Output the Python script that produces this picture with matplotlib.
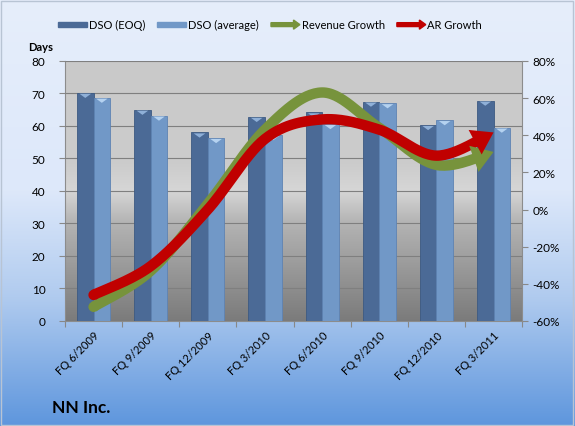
import numpy as np
import matplotlib
matplotlib.use('Agg')
import matplotlib.pyplot as plt
import matplotlib.patches as mpatches
from matplotlib.colors import LinearSegmentedColormap
from matplotlib.legend_handler import HandlerPatch

plt.rcParams['font.family'] = ['Lato', 'DejaVu Sans']

# data
quarters = ['FQ 6/2009', 'FQ 9/2009', 'FQ 12/2009', 'FQ 3/2010',
            'FQ 6/2010', 'FQ 9/2010', 'FQ 12/2010', 'FQ 3/2011']
dso_eoq = [70.2, 65.0, 58.0, 62.8, 64.2, 67.5, 60.3, 67.8]
dso_avg = [68.7, 63.2, 56.3, 57.2, 60.6, 67.0, 61.8, 59.5]
revenue_growth = [-52.4, -33.0, 3.0, 43.0, 63.0, 44.0, 24.0, 31.0]
ar_growth = [-46.0, -30.5, 0.0, 38.0, 48.5, 43.0, 29.0, 41.5]

C_EOQ = '#4b6a96'
C_AVG = '#7198c7'
C_REV = '#77933c'
C_AR = '#c00000'


def smooth(xs, ys, n=30):
    """Catmull-Rom curve through the points (like Excel's smoothed line)."""
    p = np.column_stack([xs, ys]).astype(float)
    p = np.vstack([p[0], p, p[-1]])
    out = []
    for i in range(1, len(p) - 2):
        p0, p1, p2, p3 = p[i-1], p[i], p[i+1], p[i+2]
        t = np.linspace(0, 1, n, endpoint=False)[:, None]
        seg = 0.5*((2*p1) + (-p0+p2)*t + (2*p0-5*p1+4*p2-p3)*t**2 + (-p0+3*p1-3*p2+p3)*t**3)
        out.append(seg)
    out.append(p[-2][None, :])
    out = np.vstack(out)
    return out[:, 0], out[:, 1]


def make_arrow(legend, orig_handle, xdescent, ydescent, width, height, fontsize):
    return mpatches.FancyArrow(0, height/2, width, 0, width=height*0.55,
                               head_width=height*1.3, head_length=height*0.9,
                               length_includes_head=True)


def make_bar(legend, orig_handle, xdescent, ydescent, width, height, fontsize):
    return mpatches.Rectangle((0, height*0.2), width, height*0.6)


fig = plt.figure(figsize=(5.75, 4.27), dpi=100)

# figure background gradient
bg = fig.add_axes([0, 0, 1, 1], zorder=-5)
bg_cmap = LinearSegmentedColormap.from_list('bg', [(0, '#e6eefb'), (0.45, '#dde8fa'),
                                                   (0.7, '#b0cbef'), (1.0, '#5e96dd')])
bg.imshow(np.linspace(0, 1, 256)[:, None], aspect='auto', cmap=bg_cmap,
          extent=[0, 1, 1, 0])
bg.set_xlim(0, 1)
bg.set_ylim(1, 0)
bg.axis('off')
fig.patches.append(mpatches.Rectangle((0.002, 0.003), 0.995, 0.993, transform=fig.transFigure,
                                      fill=False, ec='#b8c4d4', lw=1))

ax = fig.add_axes([0.113, 0.246, 0.795, 0.609])
ax.patch.set_alpha(0)
plot_cmap = LinearSegmentedColormap.from_list('pl', [(0, '#c9c9c9'), (0.4, '#cccccc'),
                                                     (0.5, '#d6d6d6'), (0.62, '#b4b4b4'),
                                                     (1.0, '#7b7b7b')])
x = np.arange(len(quarters))
ax.imshow(np.linspace(0, 1, 256)[:, None], aspect='auto', cmap=plot_cmap,
          extent=[-0.5, len(quarters) - 0.5, 0, 80], zorder=0)
ax.set_xlim(-0.5, len(quarters) - 0.5)
ax.set_ylim(0, 80)

bw = 0.29
ax.bar(x - bw/2, dso_eoq, bw, color=C_EOQ, ec='#3d5a82', lw=0.6, zorder=3, label='DSO (EOQ)')
ax.bar(x + bw/2, dso_avg, bw, color=C_AVG, ec='#5e83b3', lw=0.6, zorder=3, label='DSO (average)')
# small light caps on the bar tops
for xi, v in zip(x, dso_eoq):
    ax.fill([xi - bw*0.85, xi - bw*0.15, xi - bw/2], [v - 0.3, v - 0.3, v - 1.6],
            color='#8fb0d8', zorder=4, lw=0)
for xi, v in zip(x, dso_avg):
    ax.fill([xi + bw*0.15, xi + bw*0.85, xi + bw/2], [v - 0.3, v - 0.3, v - 1.6],
            color='#b5d2f0', zorder=4, lw=0)

ax.set_yticks(range(0, 81, 10))
ax.grid(axis='y', color='#7f7f7f', lw=0.8, zorder=1)
ax.set_axisbelow(False)
ax.set_xticks(np.arange(-0.5, len(quarters), 1))
ax.set_xticklabels([])
ax.set_xticks(x, minor=True)
ax.set_xticklabels(quarters, minor=True, rotation=45, ha='right', va='top',
                   rotation_mode='anchor', fontsize=8)
ax.tick_params(axis='x', which='minor', length=0, pad=6)
ax.tick_params(axis='x', which='major', length=4, color='#888888')
ax.tick_params(axis='y', length=4, color='#888888', labelsize=8.5, pad=10)
for s in ['top', 'right']:
    ax.spines[s].set_visible(False)
ax.spines['left'].set_color('#8c8c8c')
ax.spines['bottom'].set_color('#8c8c8c')

ax2 = ax.twinx()
ax2.set_ylim(-60, 80)
ax2.set_yticks(range(-60, 81, 20))
ax2.set_yticklabels([f'{v}%' for v in range(-60, 81, 20)])
ax2.tick_params(axis='y', length=4, color='#888888', labelsize=8.5)
for s in ['top', 'left', 'bottom']:
    ax2.spines[s].set_visible(False)
ax2.spines['right'].set_color('#8c8c8c')

for ys, col in [(revenue_growth, C_REV), (ar_growth, C_AR)]:
    sx, sy = smooth(x, ys)
    keep = sx <= x[-1] - 0.2
    ax2.plot(sx[keep], sy[keep], color=col, lw=7.5, solid_capstyle='butt', zorder=5)
    ax2.plot(sx[:2], sy[:2], color=col, lw=7.5, solid_capstyle='round', zorder=5)
    back = np.argmin(np.abs(sx - (x[-1] - 0.3)))
    ax2.annotate('', xy=(sx[-1], sy[-1]), xytext=(sx[back], sy[back]),
                 arrowprops=dict(arrowstyle='-|>,head_length=0.75,head_width=0.5',
                                 mutation_scale=20, color=col, lw=0,
                                 shrinkA=0, shrinkB=0), zorder=6)

handles = [mpatches.Rectangle((0, 0), 1, 1, color=C_EOQ), mpatches.Rectangle((0, 0), 1, 1, color=C_AVG),
           mpatches.FancyArrow(0, 0, 1, 0, color=C_REV), mpatches.FancyArrow(0, 0, 1, 0, color=C_AR)]
fig.legend(handles, ['DSO (EOQ)', 'DSO (average)', 'Revenue Growth', 'AR Growth'],
           loc='center', bbox_to_anchor=(0.47, 0.94), ncol=4, frameon=False, fontsize=8,
           handlelength=2.6, handleheight=0.6, columnspacing=1.1, handletextpad=0.15,
           handler_map={mpatches.FancyArrow: HandlerPatch(patch_func=make_arrow),
                        mpatches.Rectangle: HandlerPatch(patch_func=make_bar)})

fig.text(0.07, 0.888, 'Days', fontsize=8, fontweight='bold', ha='center', va='center')
fig.text(0.09, 0.045, 'NN Inc.', fontsize=12.5, fontweight='bold', ha='left', va='center')

fig.savefig('out.png', dpi=100)
